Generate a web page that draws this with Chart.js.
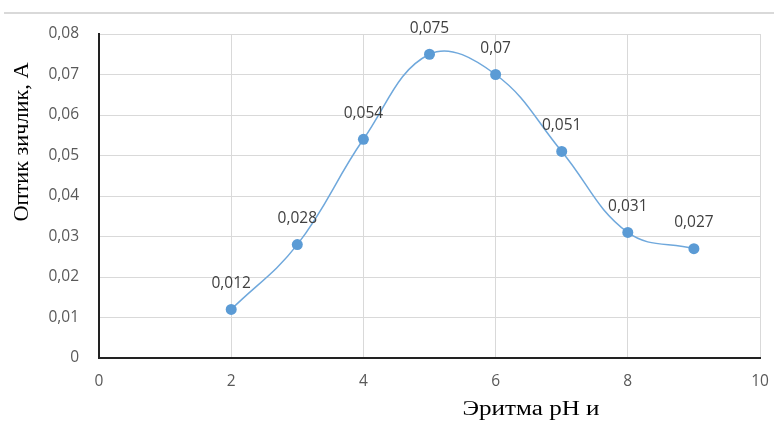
<!DOCTYPE html>
<html><head><meta charset="utf-8">
<script src="https://cdn.jsdelivr.net/npm/chart.js@4.4.1/dist/chart.umd.min.js"></script>
<style>html,body{margin:0;padding:0;background:#fff;}#wrap{width:774px;height:422px;position:relative;}</style>
</head><body><div id="wrap"><canvas id="c" width="774" height="422"></canvas></div>
<script>
const phValues = [2, 3, 4, 5, 6, 7, 8, 9];
const absorbance = [0.012, 0.028, 0.054, 0.075, 0.07, 0.051, 0.031, 0.027];
const pointLabels = ["0,012", "0,028", "0,054", "0,075", "0,07", "0,051", "0,031", "0,027"];
const xTitle = "Эритма pH и";
const yTitle = "Оптик зичлик, А";

const fmt = v => { if (Math.abs(v) < 1e-9) return "0"; return v.toFixed(2).replace(".", ","); };

function drawFitted(ctx, text, cx, cy, size, targetW, rot) {
  ctx.save();
  ctx.font = size + 'px "Liberation Serif", serif';
  const w = ctx.measureText(text).width;
  ctx.translate(cx, cy);
  if (rot) ctx.rotate(rot);
  ctx.scale(targetW / w, 1);
  ctx.textAlign = 'center';
  ctx.textBaseline = 'middle';
  ctx.fillStyle = '#000';
  ctx.fillText(text, 0, 0);
  ctx.restore();
}

const extras = {
  id: 'extras',
  beforeDraw(chart) {
    const ctx = chart.ctx;
    ctx.save();
    ctx.fillStyle = '#fff';
    ctx.fillRect(0, 0, chart.width, chart.height);
    ctx.strokeStyle = '#d9d9d9';
    ctx.lineWidth = 2;
    ctx.beginPath(); ctx.moveTo(4, 13); ctx.lineTo(chart.width, 13); ctx.stroke();
    ctx.restore();
  },
  afterDatasetsDraw(chart) {
    const ctx = chart.ctx;
    const meta = chart.getDatasetMeta(0);
    ctx.save();
    ctx.font = '15.5px "Open Sans", sans-serif';
    ctx.fillStyle = '#404040';
    ctx.textAlign = 'center';
    ctx.textBaseline = 'middle';
    meta.data.forEach((pt, i) => {
      ctx.fillText(pointLabels[i], pt.x, pt.y - 26);
    });
    ctx.restore();
    drawFitted(ctx, xTitle, 531, 410, 20, 137, 0);
    drawFitted(ctx, yTitle, 22, 142, 21, 159, -Math.PI / 2);
  }
};

new Chart(document.getElementById('c'), {
  type: 'scatter',
  data: {
    datasets: [{
      data: phValues.map((x, i) => ({ x: x, y: absorbance[i] })),
      showLine: true,
      tension: 0.4,
      borderColor: '#6fa8dc',
      borderWidth: 1.5,
      pointRadius: 5.5,
      pointHoverRadius: 5.5,
      pointBackgroundColor: '#5b9bd5',
      pointBorderColor: '#5b9bd5',
      pointBorderWidth: 0
    }]
  },
  options: {
    responsive: false,
    animation: false,
    events: [],
    layout: { padding: { left: 0, top: 34, right: 14, bottom: 0 } },
    plugins: { legend: { display: false }, tooltip: { enabled: false } },
    scales: {
      x: {
        type: 'linear', min: 0, max: 10,
        afterFit: s => { s.height = 64; s.paddingLeft = 0; s.paddingRight = 0; },
        ticks: { stepSize: 2, color: '#595959', font: { family: '"Open Sans", sans-serif', size: 15.5 }, padding: 14 },
        grid: { color: '#d9d9d9', lineWidth: 1, drawTicks: false },
        border: { color: '#222', width: 2 }
      },
      y: {
        min: 0, max: 0.08,
        afterFit: s => { s.width = 99; s.paddingTop = 0; s.paddingBottom = 0; },
        ticks: { stepSize: 0.01, color: '#595959', font: { family: '"Open Sans", sans-serif', size: 15.5 }, padding: 20, callback: v => fmt(v) },
        grid: { color: '#d9d9d9', lineWidth: 1, drawTicks: false },
        border: { color: '#222', width: 2 }
      }
    }
  },
  plugins: [extras]
});
</script></body></html>
